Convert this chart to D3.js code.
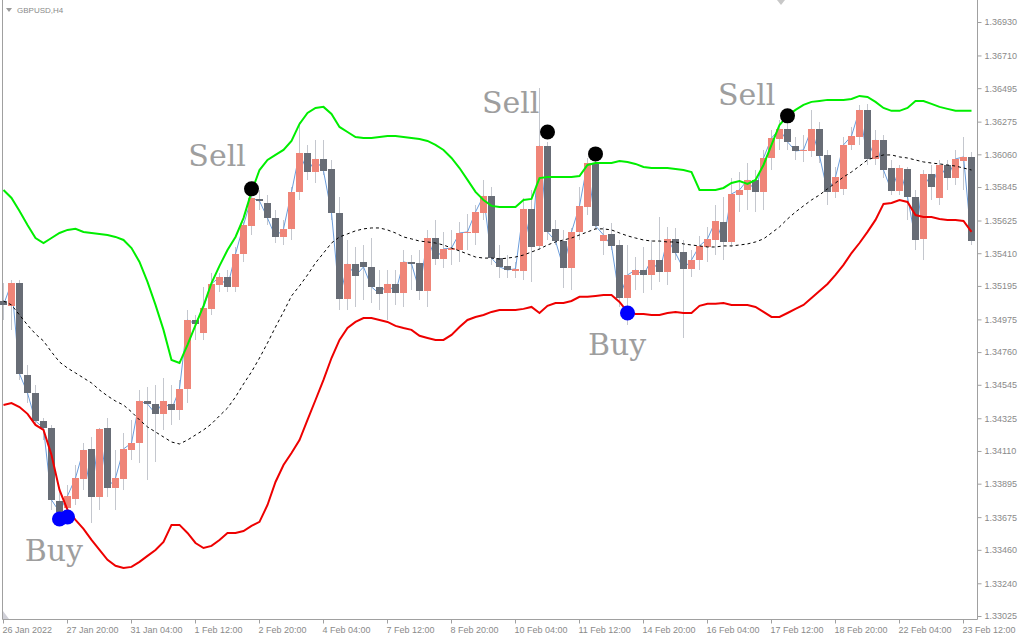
<!DOCTYPE html>
<html>
<head>
<meta charset="utf-8">
<script src="https://cdn.jsdelivr.net/npm/d3@7"></script>
<style>
  html, body { margin: 0; padding: 0; background: #ffffff; }
  svg { display: block; }
</style>
</head>
<body>
<svg id="chart"></svg>
<script>
// GBPUSD H4 candles (bar 0 = 26 Jan 2022 12:00)
const open = [
  1.35096, 1.35064, 1.35214, 1.34610, 1.34491, 1.34307, 1.34261, 1.33781, 1.33735, 1.33795,
  1.33926, 1.34123, 1.33808, 1.34261, 1.33866, 1.33926, 1.34117, 1.34162, 1.34438, 1.34419,
  1.34354, 1.34419, 1.34380, 1.34518, 1.34971, 1.34886, 1.35044, 1.35201, 1.35254, 1.35188,
  1.35405, 1.35590, 1.35767, 1.35740, 1.35641, 1.35517, 1.35570, 1.35813, 1.36069, 1.35944,
  1.36030, 1.35964, 1.35674, 1.35110, 1.35340, 1.35353, 1.35320, 1.35188, 1.35149, 1.35208,
  1.35149, 1.35353, 1.35346, 1.35162, 1.35510, 1.35372, 1.35431, 1.35431, 1.35543, 1.35543,
  1.35674, 1.35787, 1.35378, 1.35327, 1.35293, 1.35293, 1.35701, 1.35458, 1.36116, 1.35570,
  1.35490, 1.35313, 1.35550, 1.35714, 1.36003, 1.35490, 1.35537, 1.35464, 1.35116, 1.35267,
  1.35300, 1.35267, 1.35366, 1.35287, 1.35504, 1.35418, 1.35307, 1.35366, 1.35451, 1.35497,
  1.35616, 1.35484, 1.35793, 1.35826, 1.35892, 1.35813, 1.36036, 1.36161, 1.36227, 1.36116,
  1.36082, 1.36082, 1.36227, 1.36056, 1.35813, 1.35833, 1.36122, 1.36174, 1.36352, 1.36030,
  1.36155, 1.35970, 1.35819, 1.35964, 1.35780, 1.35504, 1.35931, 1.35773, 1.35990, 1.35904,
  1.36016, 1.36043
];
const high = [
  1.35214, 1.35234, 1.35234, 1.34675, 1.34544, 1.34327, 1.34281, 1.33854, 1.33886, 1.34018,
  1.34162, 1.34202, 1.34261, 1.34327, 1.34117, 1.34228, 1.34314, 1.34511, 1.34531, 1.34544,
  1.34590, 1.34544, 1.34577, 1.35037, 1.35004, 1.35188, 1.35280, 1.35280, 1.35300, 1.35451,
  1.35616, 1.35793, 1.35826, 1.35793, 1.35694, 1.35629, 1.35846, 1.36273, 1.36122, 1.36155,
  1.36155, 1.36023, 1.35780, 1.35497, 1.35451, 1.35464, 1.35510, 1.35300, 1.35300, 1.35300,
  1.35431, 1.35398, 1.35431, 1.35563, 1.35629, 1.35550, 1.35563, 1.35616, 1.35668, 1.35727,
  1.35892, 1.35846, 1.35464, 1.35398, 1.35353, 1.35773, 1.35826, 1.36496, 1.36142, 1.35629,
  1.35563, 1.35576, 1.35846, 1.36036, 1.36023, 1.35583, 1.35609, 1.35497, 1.35464, 1.35385,
  1.35451, 1.35497, 1.35648, 1.35583, 1.35576, 1.35497, 1.35431, 1.35524, 1.35583, 1.35727,
  1.35780, 1.35904, 1.35944, 1.36003, 1.35957, 1.36089, 1.36220, 1.36286, 1.36299, 1.36174,
  1.36187, 1.36352, 1.36273, 1.36089, 1.35977, 1.36174, 1.36240, 1.36385, 1.36392, 1.36220,
  1.36187, 1.36023, 1.35990, 1.35977, 1.35826, 1.35957, 1.35990, 1.36023, 1.36023, 1.36089,
  1.36174, 1.36076
];
const low = [
  1.34971, 1.34906, 1.34577, 1.34425, 1.34281, 1.34182, 1.33722, 1.33657, 1.33657, 1.33755,
  1.33854, 1.33637, 1.33722, 1.33808, 1.33722, 1.33854, 1.34051, 1.34031, 1.33919, 1.34038,
  1.34248, 1.34281, 1.34314, 1.34425, 1.34840, 1.34840, 1.35004, 1.35156, 1.35156, 1.35156,
  1.35353, 1.35530, 1.35694, 1.35596, 1.35477, 1.35464, 1.35497, 1.35760, 1.35892, 1.35872,
  1.35924, 1.35629, 1.35037, 1.35037, 1.35057, 1.35103, 1.35083, 1.35037, 1.34971, 1.35070,
  1.35057, 1.35169, 1.35103, 1.35057, 1.35333, 1.35313, 1.35333, 1.35353, 1.35431, 1.35464,
  1.35629, 1.35333, 1.35247, 1.35247, 1.35247, 1.35234, 1.35221, 1.35431, 1.35497, 1.35464,
  1.35181, 1.35169, 1.35497, 1.35661, 1.35563, 1.35398, 1.35431, 1.35057, 1.34938, 1.35169,
  1.35149, 1.35169, 1.35221, 1.35201, 1.35366, 1.34853, 1.35254, 1.35300, 1.35353, 1.35398,
  1.35366, 1.35451, 1.35681, 1.35694, 1.35681, 1.35694, 1.35957, 1.36089, 1.36089, 1.36023,
  1.36010, 1.36043, 1.36003, 1.35727, 1.35773, 1.35793, 1.36089, 1.36122, 1.35990, 1.35990,
  1.35904, 1.35793, 1.35793, 1.35629, 1.35431, 1.35366, 1.35760, 1.35727, 1.35826, 1.35859,
  1.35826, 1.35464
];
const close = [
  1.35070, 1.35214, 1.34617, 1.34491, 1.34307, 1.34261, 1.33788, 1.33709, 1.33815, 1.33932,
  1.34117, 1.33808, 1.34255, 1.33866, 1.33932, 1.34123, 1.34162, 1.34438, 1.34419, 1.34354,
  1.34438, 1.34380, 1.34518, 1.34971, 1.34945, 1.35050, 1.35208, 1.35254, 1.35188, 1.35405,
  1.35596, 1.35773, 1.35753, 1.35641, 1.35517, 1.35570, 1.35813, 1.36069, 1.35944, 1.36030,
  1.35950, 1.35674, 1.35110, 1.35340, 1.35261, 1.35320, 1.35188, 1.35143, 1.35208, 1.35149,
  1.35353, 1.35340, 1.35162, 1.35510, 1.35372, 1.35438, 1.35444, 1.35543, 1.35550, 1.35681,
  1.35787, 1.35378, 1.35320, 1.35300, 1.35307, 1.35701, 1.35451, 1.36116, 1.35550, 1.35490,
  1.35313, 1.35550, 1.35721, 1.36003, 1.35590, 1.35530, 1.35458, 1.35116, 1.35267, 1.35300,
  1.35267, 1.35366, 1.35287, 1.35504, 1.35411, 1.35307, 1.35366, 1.35458, 1.35504, 1.35622,
  1.35484, 1.35800, 1.35826, 1.35892, 1.35813, 1.36036, 1.36167, 1.36227, 1.36142, 1.36082,
  1.36089, 1.36227, 1.36050, 1.35813, 1.35911, 1.36122, 1.36181, 1.36352, 1.36030, 1.36155,
  1.35957, 1.35819, 1.35970, 1.35780, 1.35497, 1.35931, 1.35846, 1.35990, 1.35904, 1.36030,
  1.36043, 1.35490
];

// band indicator: upper (green), middle (dotted), lower (red)
const upper = [
  1.35826, 1.35773, 1.35687, 1.35596, 1.35510, 1.35477, 1.35510, 1.35543, 1.35563, 1.35570,
  1.35550, 1.35543, 1.35537, 1.35530, 1.35517, 1.35497, 1.35444, 1.35353, 1.35221, 1.35070,
  1.34906, 1.34708, 1.34688, 1.34807, 1.34938, 1.35064, 1.35214, 1.35327, 1.35431, 1.35517,
  1.35641, 1.35813, 1.35957, 1.36023, 1.36056, 1.36089, 1.36148, 1.36260, 1.36332, 1.36365,
  1.36372, 1.36326, 1.36240, 1.36207, 1.36174, 1.36167, 1.36167, 1.36174, 1.36181, 1.36181,
  1.36174, 1.36167, 1.36161, 1.36148, 1.36122, 1.36089, 1.36036, 1.35970, 1.35892, 1.35813,
  1.35760, 1.35721, 1.35714, 1.35714, 1.35714, 1.35760, 1.35767, 1.35904, 1.35911, 1.35911,
  1.35911, 1.35911, 1.35917, 1.35990, 1.36003, 1.36003, 1.36003, 1.36016, 1.36010, 1.35997,
  1.35977, 1.35970, 1.35970, 1.35970, 1.35964, 1.35957, 1.35944, 1.35826, 1.35826, 1.35826,
  1.35839, 1.35872, 1.35885, 1.35866, 1.35892, 1.35990, 1.36122, 1.36253, 1.36313, 1.36352,
  1.36385, 1.36405, 1.36411, 1.36418, 1.36418, 1.36418, 1.36424, 1.36444, 1.36437, 1.36405,
  1.36365, 1.36346, 1.36346, 1.36365, 1.36411, 1.36411, 1.36392, 1.36372, 1.36359, 1.36346,
  1.36346, 1.36346
];
const middle = [
  1.35096, 1.35070, 1.35004, 1.34938, 1.34879, 1.34833, 1.34761, 1.34695, 1.34655, 1.34623,
  1.34590, 1.34557, 1.34511, 1.34472, 1.34438, 1.34412, 1.34367, 1.34314, 1.34268, 1.34235,
  1.34202, 1.34169, 1.34156, 1.34182, 1.34215, 1.34248, 1.34288, 1.34341, 1.34392, 1.34465,
  1.34550, 1.34630, 1.34721, 1.34820, 1.34925, 1.35024, 1.35129, 1.35195, 1.35267, 1.35346,
  1.35411, 1.35477, 1.35517, 1.35537, 1.35557, 1.35570, 1.35576, 1.35576, 1.35563, 1.35543,
  1.35517, 1.35504, 1.35490, 1.35484, 1.35477, 1.35464, 1.35444, 1.35425, 1.35405, 1.35385,
  1.35378, 1.35378, 1.35372, 1.35378, 1.35385, 1.35398, 1.35418, 1.35438, 1.35464, 1.35484,
  1.35497, 1.35510, 1.35530, 1.35550, 1.35570, 1.35570, 1.35563, 1.35543, 1.35524, 1.35510,
  1.35497, 1.35490, 1.35490, 1.35484, 1.35484, 1.35471, 1.35464, 1.35458, 1.35451, 1.35451,
  1.35458, 1.35458, 1.35464, 1.35471, 1.35484, 1.35504, 1.35543, 1.35583, 1.35635, 1.35681,
  1.35721, 1.35760, 1.35793, 1.35833, 1.35872, 1.35911, 1.35944, 1.35983, 1.36023, 1.36043,
  1.36056, 1.36056, 1.36043, 1.36036, 1.36023, 1.36010, 1.36003, 1.35997, 1.35990, 1.35983,
  1.35970, 1.35957
];
const lower = [
  1.34412, 1.34425, 1.34399, 1.34354, 1.34281, 1.34248, 1.34084, 1.33854, 1.33722, 1.33657,
  1.33598, 1.33525, 1.33459, 1.33394, 1.33355, 1.33341, 1.33348, 1.33381, 1.33420, 1.33459,
  1.33512, 1.33624, 1.33624, 1.33571, 1.33505, 1.33472, 1.33486, 1.33525, 1.33571, 1.33571,
  1.33584, 1.33618, 1.33644, 1.33755, 1.33906, 1.34018, 1.34097, 1.34182, 1.34314, 1.34445,
  1.34577, 1.34721, 1.34840, 1.34918, 1.34958, 1.34984, 1.34984, 1.34971, 1.34958, 1.34932,
  1.34918, 1.34906, 1.34867, 1.34853, 1.34840, 1.34840, 1.34873, 1.34925, 1.34971, 1.34991,
  1.35004, 1.35024, 1.35037, 1.35037, 1.35037, 1.35044, 1.35057, 1.35017, 1.35064, 1.35083,
  1.35083, 1.35096, 1.35123, 1.35123, 1.35129, 1.35136, 1.35136, 1.35090, 1.35024, 1.35011,
  1.35011, 1.35004, 1.35004, 1.35017, 1.35024, 1.35017, 1.35017, 1.35064, 1.35077, 1.35077,
  1.35083, 1.35070, 1.35070, 1.35070, 1.35057, 1.35024, 1.34991, 1.34991, 1.35017, 1.35044,
  1.35070, 1.35116, 1.35162, 1.35208, 1.35267, 1.35333, 1.35411, 1.35477, 1.35550, 1.35629,
  1.35734, 1.35740, 1.35760, 1.35747, 1.35661, 1.35648, 1.35648, 1.35635, 1.35629, 1.35629,
  1.35622, 1.35550
];

// signal dots
const sellIdx = [31, 68, 74, 98];
const sellPrice = [1.35833, 1.36207, 1.36063, 1.36313];
const buyIdx = [7, 8, 78];
const buyPrice = [1.33663, 1.33676, 1.35017];

// big annotation words (bar position, baseline price)
const noteText = ["Sell", "Sell", "Sell", "Buy", "Buy"];
const noteIdx = [26.7, 63.4, 92.9, 6.3, 76.7];
const notePrice = [1.35984, 1.36332, 1.36385, 1.33387, 1.34741];

// axes
const yTicks = [1.36930, 1.36710, 1.36495, 1.36275, 1.36060, 1.35845, 1.35625, 1.35410, 1.35195,
  1.34975, 1.34760, 1.34545, 1.34325, 1.34110, 1.33895, 1.33675, 1.33460, 1.33240, 1.33025];
const xTickIdx = [0, 8, 16, 24, 32, 40, 48, 56, 64, 72, 80, 88, 96, 104, 112, 120];
const xLabels = ["26 Jan 2022", "27 Jan 20:00", "31 Jan 04:00", "1 Feb 12:00", "2 Feb 20:00",
  "4 Feb 04:00", "7 Feb 12:00", "8 Feb 20:00", "10 Feb 04:00", "11 Feb 12:00", "14 Feb 20:00",
  "16 Feb 04:00", "17 Feb 12:00", "18 Feb 20:00", "22 Feb 04:00", "23 Feb 12:00"];
const title = "GBPUSD,H4";

const width = 1024;
const height = 640;
const plotRight = 977.5;
const plotBottom = 619.5;

const bullColor = "#ef8578";
const bearColor = "#686d76";
const wickColor = "#c4c7ce";

let svg = d3.select("#chart")
  .attr("width", width)
  .attr("height", height)
  .style("background", "#ffffff");

let bars = d3.range(open.length);

let xScale = d3.scaleLinear()
  .domain([0, open.length - 1])
  .range([3.5, 3.5 + 8 * (open.length - 1)]);

let yScale = d3.scaleLinear()
  .domain([1.33025, 1.36930])
  .range([616, 22]);

// frame
svg.append("line")
  .attr("x1", 2.5).attr("x2", 2.5).attr("y1", 0).attr("y2", plotBottom)
  .attr("stroke", "#a0a0a0");
svg.append("line")
  .attr("x1", 2.5).attr("x2", plotRight).attr("y1", plotBottom).attr("y2", plotBottom)
  .attr("stroke", "#a0a0a0");
svg.append("line")
  .attr("x1", plotRight).attr("x2", plotRight).attr("y1", 0).attr("y2", plotBottom)
  .attr("stroke", "#a0a0a0");

// little chart markers
svg.append("path")
  .attr("d", "M777,0 L785,0 L781,5 Z")
  .attr("fill", "#c8c8c8");
svg.append("path")
  .attr("d", "M3,611 L3,619 L9,619 Z")
  .attr("fill", "#d0d0d8");

let plot = svg.append("g");

// wicks
plot.selectAll("line.wick")
  .data(bars)
  .enter()
  .append("line")
    .classed("wick", true)
    .attr("x1", i => xScale(i))
    .attr("x2", i => xScale(i))
    .attr("y1", i => Math.round(yScale(high[i])))
    .attr("y2", i => Math.round(yScale(low[i])))
    .attr("stroke", wickColor)
    .attr("stroke-width", 1);

// close line
let closeLine = d3.line()
  .x(i => xScale(i))
  .y(i => yScale(close[i]));

plot.append("path")
  .datum(bars)
  .attr("d", closeLine)
  .attr("fill", "none")
  .attr("stroke", "#6c9ddb")
  .attr("stroke-width", 1);

// bodies
plot.selectAll("rect.body")
  .data(bars)
  .enter()
  .append("rect")
    .classed("body", true)
    .attr("x", i => xScale(i) - 3.5)
    .attr("width", 7)
    .attr("y", i => Math.round(yScale(Math.max(open[i], close[i]))))
    .attr("height", i => Math.max(1, Math.round(Math.abs(yScale(open[i]) - yScale(close[i])))))
    .attr("fill", i => close[i] >= open[i] ? bullColor : bearColor);

// bands
let bandLine = arr => d3.line()
  .x(i => xScale(i))
  .y(i => yScale(arr[i]));

plot.append("path")
  .datum(bars)
  .attr("d", bandLine(middle))
  .attr("fill", "none")
  .attr("stroke", "#000000")
  .attr("stroke-width", 1)
  .attr("stroke-dasharray", "3,3");

plot.append("path")
  .datum(bars)
  .attr("d", bandLine(upper))
  .attr("fill", "none")
  .attr("stroke", "#00ee00")
  .attr("stroke-width", 2);

plot.append("path")
  .datum(bars)
  .attr("d", bandLine(lower))
  .attr("fill", "none")
  .attr("stroke", "#ee0000")
  .attr("stroke-width", 2);

// signals
plot.selectAll("circle.sell")
  .data(sellIdx)
  .enter()
  .append("circle")
    .classed("sell", true)
    .attr("cx", d => xScale(d))
    .attr("cy", (d, k) => yScale(sellPrice[k]))
    .attr("r", 7.5)
    .attr("fill", "#000000");

plot.selectAll("circle.buy")
  .data(buyIdx)
  .enter()
  .append("circle")
    .classed("buy", true)
    .attr("cx", d => xScale(d))
    .attr("cy", (d, k) => yScale(buyPrice[k]))
    .attr("r", 7.5)
    .attr("fill", "#0000ff");

// annotation words
svg.selectAll("text.note")
  .data(noteText)
  .enter()
  .append("text")
    .classed("note", true)
    .attr("x", (d, k) => xScale(noteIdx[k]))
    .attr("y", (d, k) => yScale(notePrice[k]))
    .attr("text-anchor", "middle")
    .style("font-family", "'DejaVu Serif', serif")
    .style("font-size", "30px")
    .attr("fill", "#9e9e9e")
    .text(d => d);

// y axis on the right
let yAxis = d3.axisRight(yScale)
  .tickValues(yTicks)
  .tickFormat(d3.format(".5f"))
  .tickSize(4)
  .tickSizeOuter(0)
  .tickPadding(3)
  .offset(0);

let yG = svg.append("g")
  .attr("transform", `translate(${plotRight}, 0.5)`)
  .call(yAxis);
yG.select(".domain").remove();
yG.selectAll(".tick line").attr("stroke", "#a0a0a0");
yG.selectAll(".tick text")
  .attr("fill", "#8a8a8a")
  .style("font-family", "'Liberation Sans', Arial, sans-serif")
  .style("font-size", "9px");

// x axis at the bottom
let xAxis = d3.axisBottom(xScale)
  .tickValues(xTickIdx)
  .tickFormat((d, k) => xLabels[k])
  .tickSize(4)
  .tickSizeOuter(0)
  .offset(0);

let xG = svg.append("g")
  .attr("transform", `translate(0, ${plotBottom})`)
  .call(xAxis);
xG.select(".domain").remove();
xG.selectAll(".tick line").attr("stroke", "#a0a0a0");
xG.selectAll(".tick text")
  .attr("fill", "#8a8a8a")
  .attr("text-anchor", "start")
  .attr("x", -1)
  .attr("y", 13)
  .attr("dy", 0)
  .style("font-family", "'Liberation Sans', Arial, sans-serif")
  .style("font-size", "9px");

// title
svg.append("path")
  .attr("d", "M6,8 L12,8 L9,12 Z")
  .attr("fill", "#9a9a9a");
svg.append("text")
  .attr("x", 17)
  .attr("y", 13)
  .style("font-family", "'Liberation Sans', Arial, sans-serif")
  .style("font-size", "8px")
  .attr("fill", "#8a8a8a")
  .text(title);
</script>
</body>
</html>
